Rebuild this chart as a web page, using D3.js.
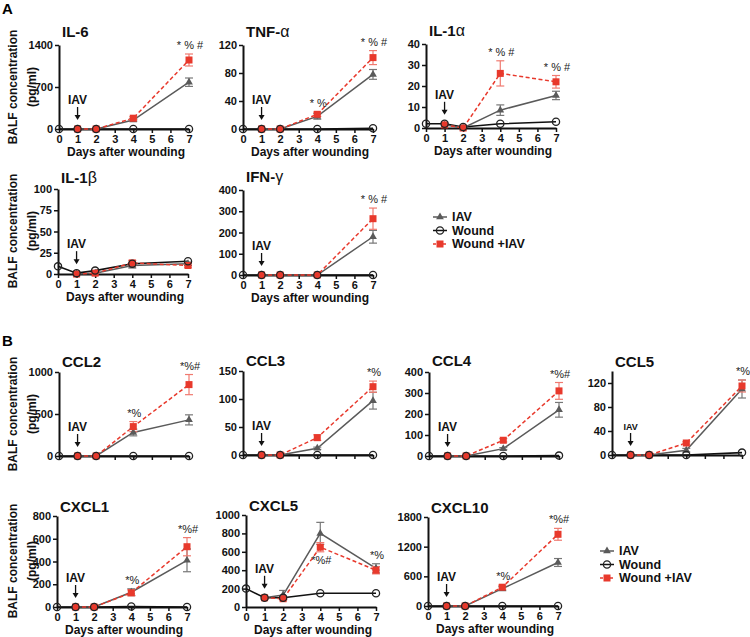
<!DOCTYPE html>
<html><head><meta charset="utf-8">
<script src="https://cdn.jsdelivr.net/npm/d3@7"></script>
<style>
body{margin:0;background:#fff}
text{font-family:Arial,"Liberation Sans",Helvetica,sans-serif}
</style>
</head><body><svg id="c" width="750" height="637"></svg>
<script>
// ---------------- DATA ----------------
const days = [0, 1, 2, 4, 7];
const xTicks = [0, 1, 2, 3, 4, 5, 6, 7];
const seriesNames = ["IAV", "Wound", "Wound +IAV"];

// IL-6
const il6Iav = [null, 0, 0, 150, 780], il6IavErr = [0, 0, 0, 20, 70];
const il6Wound = [0, 0, 0, 0, 0];
const il6Wiav = [null, 0, 0, 180, 1150], il6WiavErr = [0, 0, 0, 25, 100];
// TNF-a
const tnfIav = [null, 0, 0, 18, 78], tnfIavErr = [0, 0, 0, 4, 7];
const tnfWound = [0, 0, 0, 0, 1];
const tnfWiav = [null, 0, 0, 21, 102], tnfWiavErr = [0, 0, 0, 3, 10];
// IL-1a
const il1aIav = [null, 1.5, 0, 8.5, 15.5], il1aIavErr = [0, 0, 0, 2.5, 2];
const il1aWound = [2, 2, 0.5, 2, 3];
const il1aWiav = [null, 1.5, 0, 26, 22], il1aWiavErr = [0, 0, 0, 6, 3];
// IL-1b
const il1bIav = [null, 0, 1, 10, 12], il1bIavErr = [0, 0, 0, 3, 2];
const il1bWound = [9, 1, 4, 12, 15];
const il1bWiav = [null, 0, 1, 13, 10], il1bWiavErr = [0, 0, 0, 3, 2];
// IFN-g
const ifnIav = [null, 0, 0, 0, 180], ifnIavErr = [0, 0, 0, 0, 30];
const ifnWound = [0, 0, 0, 0, 0];
const ifnWiav = [null, 0, 0, 0, 265], ifnWiavErr = [0, 0, 0, 0, 50];
// CCL2
const ccl2Iav = [null, 0, 0, 280, 430], ccl2IavErr = [0, 0, 0, 40, 60];
const ccl2Wound = [0, 0, 0, 0, 0];
const ccl2Wiav = [null, 0, 0, 350, 850], ccl2WiavErr = [0, 0, 0, 60, 120];
// CCL3
const ccl3Iav = [null, 0, 0, 12, 97], ccl3IavErr = [0, 0, 0, 2, 15];
const ccl3Wound = [0, 0, 0, 0, 0];
const ccl3Wiav = [null, 0, 0, 31, 122], ccl3WiavErr = [0, 0, 0, 5, 10];
// CCL4
const ccl4Iav = [null, 0, 0, 35, 220], ccl4IavErr = [0, 0, 0, 5, 35];
const ccl4Wound = [0, 0, 0, 0, 2];
const ccl4Wiav = [null, 0, 0, 75, 310], ccl4WiavErr = [0, 0, 0, 8, 40];
// CCL5
const ccl5Iav = [null, 0, 0, 8, 110], ccl5IavErr = [0, 0, 0, 3, 15];
const ccl5Wound = [0, 0, 0, 0, 4];
const ccl5Wiav = [null, 0, 0, 20, 115], ccl5WiavErr = [0, 0, 0, 2, 10];
// CXCL1
const cxcl1Iav = [null, 0, 0, 130, 410], cxcl1IavErr = [0, 0, 0, 30, 100];
const cxcl1Wound = [0, 0, 0, 5, 0];
const cxcl1Wiav = [null, 0, 0, 125, 530], cxcl1WiavErr = [0, 0, 0, 25, 80];
// CXCL5
const cxcl5Iav = [null, 100, 130, 800, 420], cxcl5IavErr = [0, 0, 50, 120, 50];
const cxcl5Wound = [200, 100, 100, 150, 150];
const cxcl5Wiav = [null, 100, 90, 650, 400], cxcl5WiavErr = [0, 0, 10, 50, 40];
// CXCL10
const cxcl10Iav = [null, 0, 0, 350, 880], cxcl10IavErr = [0, 0, 0, 40, 80];
const cxcl10Wound = [0, 0, 0, 0, 0];
const cxcl10Wiav = [null, 0, 0, 380, 1450], cxcl10WiavErr = [0, 0, 0, 40, 120];

const panels = [
  {name: "IL-6", greek: "", iav: il6Iav, iavErr: il6IavErr, wound: il6Wound, wiav: il6Wiav, wiavErr: il6WiavErr, yMax: 1400, yTicks: [0, 700, 1400], notes: [[7, "* % #"]]},
  {name: "TNF-", greek: "α", iav: tnfIav, iavErr: tnfIavErr, wound: tnfWound, wiav: tnfWiav, wiavErr: tnfWiavErr, yMax: 120, yTicks: [0, 40, 80, 120], notes: [[4, "* %"], [7, "* % #"]]},
  {name: "IL-1", greek: "α", iav: il1aIav, iavErr: il1aIavErr, wound: il1aWound, wiav: il1aWiav, wiavErr: il1aWiavErr, yMax: 40, yTicks: [0, 10, 20, 30, 40], notes: [[4, "* % #"], [7, "* % #"]]},
  {name: "IL-1", greek: "β", iav: il1bIav, iavErr: il1bIavErr, wound: il1bWound, wiav: il1bWiav, wiavErr: il1bWiavErr, yMax: 100, yTicks: [0, 25, 50, 75, 100], notes: []},
  {name: "IFN-", greek: "γ", iav: ifnIav, iavErr: ifnIavErr, wound: ifnWound, wiav: ifnWiav, wiavErr: ifnWiavErr, yMax: 400, yTicks: [0, 100, 200, 300, 400], notes: [[7, "* % #"]]},
  {name: "CCL2", greek: "", iav: ccl2Iav, iavErr: ccl2IavErr, wound: ccl2Wound, wiav: ccl2Wiav, wiavErr: ccl2WiavErr, yMax: 1000, yTicks: [0, 500, 1000], notes: [[4, "*%"], [7, "*%#"]]},
  {name: "CCL3", greek: "", iav: ccl3Iav, iavErr: ccl3IavErr, wound: ccl3Wound, wiav: ccl3Wiav, wiavErr: ccl3WiavErr, yMax: 150, yTicks: [0, 50, 100, 150], notes: [[7, "*%"]]},
  {name: "CCL4", greek: "", iav: ccl4Iav, iavErr: ccl4IavErr, wound: ccl4Wound, wiav: ccl4Wiav, wiavErr: ccl4WiavErr, yMax: 400, yTicks: [0, 100, 200, 300, 400], notes: [[7, "*%#"]]},
  {name: "CCL5", greek: "", iav: ccl5Iav, iavErr: ccl5IavErr, wound: ccl5Wound, wiav: ccl5Wiav, wiavErr: ccl5WiavErr, yMax: 140, yTicks: [0, 40, 80, 120], notes: [[7, "*%"]], smallIav: true},
  {name: "CXCL1", greek: "", iav: cxcl1Iav, iavErr: cxcl1IavErr, wound: cxcl1Wound, wiav: cxcl1Wiav, wiavErr: cxcl1WiavErr, yMax: 800, yTicks: [0, 200, 400, 600, 800], notes: [[4, "*%"], [7, "*%#"]]},
  {name: "CXCL5", greek: "", iav: cxcl5Iav, iavErr: cxcl5IavErr, wound: cxcl5Wound, wiav: cxcl5Wiav, wiavErr: cxcl5WiavErr, yMax: 1000, yTicks: [0, 200, 400, 600, 800, 1000], notes: [[4, "*%#", "below"], [7, "*%"]]},
  {name: "CXCL10", greek: "", iav: cxcl10Iav, iavErr: cxcl10IavErr, wound: cxcl10Wound, wiav: cxcl10Wiav, wiavErr: cxcl10WiavErr, yMax: 1800, yTicks: [0, 600, 1200, 1800], notes: [[4, "*%"], [7, "*%#"]]}
];

// ---------------- LAYOUT ----------------
const layout = [
  {x: 59, y0: 129, yTop: 45, xLab: true, tOff: 8},
  {x: 243, y0: 129, yTop: 45, xLab: true, tOff: 8},
  {x: 426, y0: 128, yTop: 44, xLab: true, tOff: 8},
  {x: 58, y0: 274, yTop: 189, xLab: true, tOff: 6},
  {x: 243, y0: 275, yTop: 190, xLab: true, tOff: 8},
  {x: 59, y0: 456, yTop: 372, xLab: false, tOff: 5},
  {x: 243, y0: 455, yTop: 371, xLab: false, tOff: 5},
  {x: 429, y0: 456, yTop: 372, xLab: false, tOff: 6},
  {x: 612, y0: 455, yTop: 371, xLab: false, tOff: 4},
  {x: 57, y0: 607, yTop: 516, xLab: true, tOff: 4},
  {x: 246, y0: 607, yTop: 515, xLab: true, tOff: 4},
  {x: 428, y0: 606, yTop: 517, xLab: true, tOff: 4}
];
const PW = 130;
const RED = "#e8392c", REDERR = "#f07a70", GRAY = "#5a5a5a", GRAYERR = "#777";

const svg = d3.select("#c");

function drawPanel(p, L) {
  const g = svg.append("g");
  const x = d3.scaleLinear().domain([0, 7]).range([L.x, L.x + PW]);
  const y = d3.scaleLinear().domain([0, p.yMax]).range([L.y0, L.yTop]);

  const ya = d3.axisLeft(y).tickValues(p.yTicks).tickSizeInner(4).tickSizeOuter(0).tickPadding(2).tickFormat(d3.format("d"));
  const yg = g.append("g").attr("transform", `translate(${L.x},0)`).call(ya);
  const xa = d3.axisBottom(x).tickValues(xTicks).tickSizeInner(4).tickSizeOuter(0).tickPadding(2).tickFormat(d3.format("d"));
  if (!L.xLab) xa.tickFormat("");
  const xg = g.append("g").attr("transform", `translate(0,${L.y0})`).call(xa);
  [yg, xg].forEach(a => {
    a.select(".domain").attr("stroke", "#111").attr("stroke-width", 2);
    a.selectAll(".tick line").attr("stroke", "#111").attr("stroke-width", 1.5);
    a.selectAll(".tick text").attr("font-size", 11).attr("font-weight", "bold").attr("fill", "#111")
      .attr("font-family", "Arial, 'Liberation Sans', sans-serif");
  });

  // title
  const t = g.append("text").attr("x", L.x + 3).attr("y", L.yTop - L.tOff)
    .attr("font-size", 15).attr("font-weight", "bold").attr("fill", "#111").text(p.name);
  if (p.greek) t.append("tspan").attr("font-weight", "normal").attr("font-size", 16).text(p.greek);

  if (L.xLab) {
    g.append("text").attr("x", x(3.5) + 2).attr("y", L.y0 + 27).attr("text-anchor", "middle")
      .attr("font-size", 12).attr("font-weight", "bold").attr("fill", "#111").text("Days after wounding");
  }

  const rows = days.map((d, i) => ({d, iav: p.iav[i], iavE: p.iavErr[i], w: p.wound[i], wi: p.wiav[i], wiE: p.wiavErr[i]}));
  const iavRows = rows.filter(r => r.iav != null);
  const wiRows = rows.filter(r => r.wi != null);

  // lines
  const line = key => d3.line().x(r => x(r.d)).y(r => y(r[key]));
  g.append("path").datum(rows).attr("d", line("w")).attr("fill", "none").attr("stroke", "#111").attr("stroke-width", 1.6);
  g.append("path").datum(iavRows).attr("d", line("iav")).attr("fill", "none").attr("stroke", GRAY).attr("stroke-width", 1.5);
  g.append("path").datum(wiRows).attr("d", line("wi")).attr("fill", "none").attr("stroke", RED).attr("stroke-width", 1.5).attr("stroke-dasharray", "4,2.5");

  // error bars
  function errBars(data, key, ekey, col) {
    const e = g.append("g").attr("stroke", col).attr("stroke-width", 1.2).selectAll("g").data(data.filter(r => r[ekey] > 0)).join("g");
    e.append("line").attr("x1", r => x(r.d)).attr("x2", r => x(r.d)).attr("y1", r => y(r[key] - r[ekey])).attr("y2", r => y(r[key] + r[ekey]));
    e.append("line").attr("x1", r => x(r.d) - 4).attr("x2", r => x(r.d) + 4).attr("y1", r => y(r[key] + r[ekey])).attr("y2", r => y(r[key] + r[ekey]));
    e.append("line").attr("x1", r => x(r.d) - 4).attr("x2", r => x(r.d) + 4).attr("y1", r => y(r[key] - r[ekey])).attr("y2", r => y(r[key] - r[ekey]));
  }
  errBars(iavRows, "iav", "iavE", GRAYERR);
  errBars(wiRows, "wi", "wiE", REDERR);

  // markers
  g.selectAll(".tri").data(iavRows).join("path")
    .attr("d", d3.symbol().type(d3.symbolTriangle).size(26))
    .attr("transform", r => `translate(${x(r.d)},${y(r.iav)})`).attr("fill", GRAY);
  g.selectAll(".sq").data(wiRows).join("rect")
    .attr("x", r => x(r.d) - 3.5).attr("y", r => y(r.wi) - 3.5).attr("width", 7).attr("height", 7).attr("fill", RED);
  g.selectAll(".circ").data(rows).join("circle")
    .attr("cx", r => x(r.d)).attr("cy", r => y(r.w)).attr("r", 3.6)
    .attr("fill", "none").attr("stroke", "#222").attr("stroke-width", 1.3);

  // significance notes
  p.notes.forEach(([d, txt, pos]) => {
    const r = rows[days.indexOf(d)];
    let yy;
    if (pos === "below") {
      yy = y(Math.min(r.iav - r.iavE, r.wi - r.wiE)) + 12;
    } else {
      yy = y(Math.max(r.iav + r.iavE, r.wi + r.wiE)) - 5;
    }
    g.append("text").attr("x", x(d) + 1).attr("y", yy).attr("text-anchor", "middle")
      .attr("font-size", 11).attr("fill", "#222").text(txt);
  });

  // IAV arrow at day 1
  const r1 = rows[1];
  const py = y(Math.max(r1.iav, r1.wi, r1.w));
  const fs = p.smallIav ? 9 : 12;
  g.append("text").attr("x", x(1)).attr("y", py - 25).attr("text-anchor", "middle")
    .attr("font-size", fs).attr("font-weight", "bold").attr("fill", "#111").text("IAV");
  g.append("line").attr("x1", x(1)).attr("x2", x(1)).attr("y1", py - 22).attr("y2", py - 13)
    .attr("stroke", "#111").attr("stroke-width", 1.3);
  g.append("path").attr("d", d3.line()([[x(1) - 3, py - 14], [x(1) + 3, py - 14], [x(1), py - 9]])).attr("fill", "#111");
}

panels.forEach((p, i) => drawPanel(p, layout[i]));

// y-axis titles
const yTitleRows = [87, 231, 414, 561];
yTitleRows.forEach(cy => {
  const t = svg.append("text").attr("transform", `translate(17,${cy}) rotate(-90)`).attr("text-anchor", "middle")
    .attr("font-size", 12).attr("font-weight", "bold").attr("fill", "#111");
  t.append("tspan").attr("x", 0).attr("y", 0).text("BALF concentration");
  t.append("tspan").attr("x", 0).attr("y", 19).text("(pg/ml)");
});

// panel letters
svg.append("text").attr("x", 2).attr("y", 14).attr("font-size", 15).attr("font-weight", "bold").text("A");
svg.append("text").attr("x", 2).attr("y", 346).attr("font-size", 15).attr("font-weight", "bold").text("B");

// legends
function legend(lx, ly) {
  const g = svg.append("g");
  seriesNames.forEach((s, i) => {
    const yy = ly + i * 13.5;
    if (i === 0) {
      g.append("line").attr("x1", lx - 7).attr("x2", lx + 7).attr("y1", yy).attr("y2", yy).attr("stroke", GRAY).attr("stroke-width", 1.5);
      g.append("path").attr("d", d3.symbol().type(d3.symbolTriangle).size(26)).attr("transform", `translate(${lx},${yy})`).attr("fill", GRAY);
    } else if (i === 1) {
      g.append("line").attr("x1", lx - 7).attr("x2", lx + 7).attr("y1", yy).attr("y2", yy).attr("stroke", "#111").attr("stroke-width", 1.5);
      g.append("circle").attr("cx", lx).attr("cy", yy).attr("r", 3.6).attr("fill", "none").attr("stroke", "#222").attr("stroke-width", 1.3);
    } else {
      g.append("line").attr("x1", lx - 7).attr("x2", lx + 7).attr("y1", yy).attr("y2", yy).attr("stroke", RED).attr("stroke-width", 1.5).attr("stroke-dasharray", "3,2");
      g.append("rect").attr("x", lx - 3.5).attr("y", yy - 3.5).attr("width", 7).attr("height", 7).attr("fill", RED);
    }
    g.append("text").attr("x", lx + 12).attr("y", yy + 4.3).attr("font-size", 12.5).attr("font-weight", "bold").attr("fill", "#111").text(s);
  });
}
legend(440, 217);
legend(607, 551);
</script>
</body></html>
